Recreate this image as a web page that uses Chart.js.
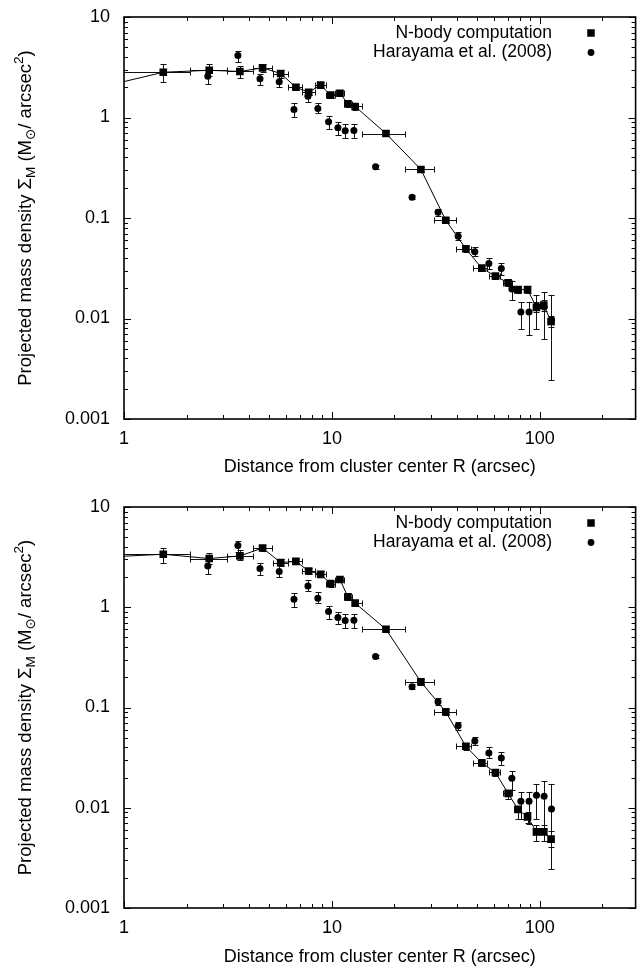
<!DOCTYPE html>
<html>
<head>
<meta charset="utf-8">
<script src="https://cdn.jsdelivr.net/npm/chart.js@4.4.1/dist/chart.umd.min.js"></script>
<style>
html,body{margin:0;padding:0;background:#fff;}
#wrap{position:relative;width:638px;height:969px;overflow:hidden;}
#c1{position:absolute;left:0;top:0;}
#c2{position:absolute;left:0;top:484px;}
</style>
</head>
<body>
<div id="wrap">
<canvas id="c1" width="641" height="484"></canvas>
<canvas id="c2" width="641" height="485"></canvas>
</div>
<script>
// ---- tick labels ----
const xTickValues = [1, 10, 100];
const xTickLabels = ['1', '10', '100'];
const yTickValues = [0.001, 0.01, 0.1, 1, 10];
const yTickLabels = ['0.001', '0.01', '0.1', '1', '10'];

// ---- N-body computation (radial bins) ----
const nbodyR   = [0.5, 1.545, 2.57, 3.61, 4.64, 5.67, 6.71, 7.73, 8.83, 9.86, 10.93, 11.94, 12.94, 18.2, 26.8, 35.3, 44.1, 52.6, 61.2, 70.4, 78.6, 87.3, 96.4, 104.5, 113.3];
const nbodyRLo = [null, 0.8, 2.07, 3.12, 4.17, 5.2, 6.14, 7.2, 8.3, 9.35, 10.4, 11.4, 12.45, 13.9, 22.4, 31.0, 39.7, 47.5, 57.0, 66.5, 75.0, 84.0, 92.5, 101, 109.5];
const nbodyRHi = [null, 2.07, 3.12, 4.17, 5.13, 6.14, 7.2, 8.3, 9.35, 10.4, 11.4, 12.45, 13.9, 22.4, 31.0, 39.7, 46.8, 55.5, 64.5, 73.5, 81.5, 90, 99.5, 107, 116];

// upper panel
const nbodyTop   = [1.62, 2.82, 2.95, 2.87, 3.12, 2.74, 2.00, 1.785, 2.10, 1.67, 1.745, 1.369, 1.287, 0.693, 0.304, 0.095, 0.0494, 0.0317, 0.0264, 0.0227, 0.0194, 0.0194, 0.0129, 0.0136, 0.00933];
const nbodyTopLo = [null, 2.23, 2.6, 2.48, 2.85, 2.5, 1.87, 1.66, 1.96, 1.56, 1.63, 1.28, 1.2, 0.66, 0.29, 0.09, 0.046, 0.0295, 0.0245, 0.021, 0.018, 0.018, 0.0115, 0.012, 0.0082];
const nbodyTopHi = [null, 3.37, 3.37, 3.24, 3.4, 3.0, 2.14, 1.92, 2.25, 1.79, 1.87, 1.46, 1.38, 0.73, 0.32, 0.1, 0.053, 0.034, 0.0285, 0.0245, 0.021, 0.021, 0.0145, 0.0153, 0.0107];

// lower panel
const nbodyBottom   = [3.0, 3.38, 3.06, 3.25, 3.90, 2.79, 2.87, 2.30, 2.13, 1.72, 1.89, 1.27, 1.10, 0.603, 0.180, 0.0904, 0.0411, 0.0280, 0.0225, 0.0139, 0.00962, 0.00811, 0.00575, 0.00575, 0.00486];
const nbodyBottomLo = [null, 2.79, 2.73, 2.94, 3.6, 2.6, 2.68, 2.15, 1.99, 1.61, 1.77, 1.19, 1.03, 0.57, 0.168, 0.084, 0.038, 0.026, 0.0208, 0.0121, 0.0078, 0.0070, 0.0047, 0.0047, 0.0041];
const nbodyBottomHi = [null, 3.93, 3.51, 3.70, 4.2, 3.0, 3.07, 2.46, 2.28, 1.84, 2.02, 1.36, 1.18, 0.64, 0.193, 0.097, 0.044, 0.030, 0.0243, 0.0149, 0.0102, 0.0091, 0.0067, 0.0067, 0.0058];

// ---- Harayama et al. (2008) ----
const harR     = [2.53, 3.53, 4.51, 5.58, 6.57, 7.67, 8.56, 9.64, 10.69, 11.59, 12.76, 16.22, 24.3, 32.4, 40.5, 48.7, 56.9, 65.3, 73.4, 81.1, 88.8, 96.4, 104.9, 113.8];
const harSigma = [2.58, 4.14, 2.43, 2.27, 1.20, 1.63, 1.23, 0.906, 0.79, 0.737, 0.742, 0.323, 0.161, 0.114, 0.0658, 0.0462, 0.0352, 0.0314, 0.0197, 0.0116, 0.0116, 0.0133, 0.013, 0.0097];
const harLo    = [2.13, 3.55, 2.1, 1.99, 1.007, 1.44, 1.096, 0.772, 0.673, 0.622, 0.622, 0.31, 0.153, 0.105, 0.06, 0.042, 0.031, 0.027, 0.0152, 0.0078, 0.0069, 0.0078, 0.0062, 0.00247];
const harHi    = [3.0, 4.56, 2.74, 2.74, 1.38, 1.86, 1.41, 1.03, 0.898, 0.852, 0.852, 0.335, 0.17, 0.123, 0.072, 0.051, 0.040, 0.036, 0.0235, 0.0145, 0.0145, 0.0173, 0.0183, 0.0173];

const seriesNames = ['N-body computation', 'Harayama et al. (2008)'];
const xTitle = 'Distance from cluster center R (arcsec)';
const yTitleParts = [
  ['Projected mass density \u03A3', 'n'], ['M', 'sub'], [' (M', 'n'], ['\u2299', 'sub'],
  ['/ arcsec', 'n'], ['2', 'sup'], [')', 'n']
];

const FONT = '"Liberation Sans", Arial, Helvetica, "DejaVu Sans", sans-serif';
const specs = {};

const decor = {
  id: 'decor',
  beforeDatasetsDraw(chart) {
    const s = specs[chart.canvas.id];
    const ctx = chart.ctx, a = chart.chartArea;
    const xs = chart.scales.x, ys = chart.scales.y;
    ctx.save();
    ctx.beginPath();
    ctx.rect(a.left, a.top, a.right - a.left, a.bottom - a.top);
    ctx.clip();
    ctx.strokeStyle = '#111';
    ctx.lineWidth = 1;
    const cap = 3;
    s.groups.forEach(g => {
      for (let i = 0; i < g.x.length; i++) {
        const px = Math.round(xs.getPixelForValue(g.x[i])) + 0.5;
        const py = Math.round(ys.getPixelForValue(g.y[i])) + 0.5;
        if (g.ylo && g.ylo[i] != null) {
          const p1 = Math.round(ys.getPixelForValue(g.ylo[i])) + 0.5;
          const p2 = Math.round(ys.getPixelForValue(g.yhi[i])) + 0.5;
          ctx.beginPath();
          ctx.moveTo(px, p1); ctx.lineTo(px, p2);
          ctx.moveTo(px - cap, p1); ctx.lineTo(px + cap, p1);
          ctx.moveTo(px - cap, p2); ctx.lineTo(px + cap, p2);
          ctx.stroke();
        }
        if (g.xlo && g.xlo[i] != null) {
          const q1 = Math.round(xs.getPixelForValue(g.xlo[i])) + 0.5;
          const q2 = Math.round(xs.getPixelForValue(g.xhi[i])) + 0.5;
          ctx.beginPath();
          ctx.moveTo(q1, py); ctx.lineTo(q2, py);
          ctx.moveTo(q1, py - cap); ctx.lineTo(q1, py + cap);
          ctx.moveTo(q2, py - cap); ctx.lineTo(q2, py + cap);
          ctx.stroke();
        }
      }
    });
    ctx.restore();
  },
  afterDraw(chart) {
    const ctx = chart.ctx, a = chart.chartArea;
    const xs = chart.scales.x, ys = chart.scales.y;
    ctx.save();
    ctx.strokeStyle = '#000';
    // ticks
    ctx.lineWidth = 1;
    const major = 7, minor = 4;
    ctx.beginPath();
    [1, 10, 100].forEach(d => {
      for (let k = 1; k <= 9; k++) {
        const v = k * d;
        if (v < xs.min || v > xs.max) continue;
        const px = Math.round(xs.getPixelForValue(v)) + 0.5;
        const L = k === 1 ? major : minor;
        ctx.moveTo(px, a.bottom); ctx.lineTo(px, a.bottom - L);
        ctx.moveTo(px, a.top); ctx.lineTo(px, a.top + L);
      }
    });
    [0.001, 0.01, 0.1, 1, 10].forEach(d => {
      for (let k = 1; k <= 9; k++) {
        const v = k * d;
        if (v < ys.min * 0.999 || v > ys.max * 1.001) continue;
        const py = Math.round(ys.getPixelForValue(v)) + 0.5;
        const L = k === 1 ? major : minor;
        ctx.moveTo(a.left, py); ctx.lineTo(a.left + L, py);
        ctx.moveTo(a.right, py); ctx.lineTo(a.right - L, py);
      }
    });
    ctx.stroke();
    // frame
    ctx.lineWidth = 1.6;
    ctx.strokeRect(a.left, a.top, a.right - a.left, a.bottom - a.top);

    // legend
    ctx.fillStyle = '#000';
    ctx.font = '17.5px ' + FONT;
    ctx.textAlign = 'right';
    ctx.textBaseline = 'middle';
    const ly1 = a.top + 16, ly2 = a.top + 35.5;
    ctx.fillText(seriesNames[0], 552, ly1);
    ctx.fillText(seriesNames[1], 552, ly2);
    ctx.fillRect(591 - 3.75, ly1 - 3.75, 7.5, 7.5);
    ctx.beginPath(); ctx.arc(591, ly2, 3.4, 0, Math.PI * 2); ctx.fill();

    // y title with sub/superscripts
    const fs = 18.5, small = 13.5;
    const segs = yTitleParts.map(([t, k]) => {
      ctx.font = (k === 'n' ? fs : small) + 'px ' + FONT;
      return { t, k, w: ctx.measureText(t).width };
    });
    const total = segs.reduce((s, g) => s + g.w, 0);
    const cy = (a.top + a.bottom) / 2;
    ctx.translate(30.5, cy);
    ctx.rotate(-Math.PI / 2);
    ctx.textAlign = 'left';
    ctx.textBaseline = 'alphabetic';
    let xpos = -total / 2;
    segs.forEach(g => {
      ctx.font = (g.k === 'n' ? fs : small) + 'px ' + FONT;
      const dy = g.k === 'sub' ? 4.5 : (g.k === 'sup' ? -7.5 : 0);
      ctx.fillText(g.t, xpos, dy);
      xpos += g.w;
    });
    ctx.restore();
  }
};

function makeChart(id, vals, lo, hi, padTop, xHeight, titlePadBottom) {
  specs[id] = {
    groups: [
      { x: nbodyR, y: vals, ylo: lo, yhi: hi, xlo: nbodyRLo, xhi: nbodyRHi },
      { x: harR, y: harSigma, ylo: harLo, yhi: harHi }
    ]
  };
  const font = { family: FONT, size: 18 };
  new Chart(document.getElementById(id), {
    type: 'scatter',
    data: {
      datasets: [
        {
          label: seriesNames[0],
          data: nbodyR.map((r, i) => ({ x: r, y: vals[i] })),
          showLine: true, borderColor: '#000', borderWidth: 1, tension: 0,
          pointStyle: 'rect', pointRadius: 5.4, pointBackgroundColor: '#000',
          pointBorderWidth: 0, pointHoverRadius: 5.4
        },
        {
          label: seriesNames[1],
          data: harR.map((r, i) => ({ x: r, y: harSigma[i] })),
          showLine: false,
          pointStyle: 'circle', pointRadius: 3.5, pointBackgroundColor: '#000',
          pointBorderWidth: 0, pointHoverRadius: 3.5
        }
      ]
    },
    options: {
      responsive: false,
      animation: false,
      events: [],
      layout: { padding: { top: padTop, right: 2, left: 0, bottom: 0 } },
      plugins: { legend: { display: false }, tooltip: { enabled: false } },
      scales: {
        x: {
          type: 'logarithmic', min: 1, max: 289,
          afterBuildTicks(sc) { sc.ticks = xTickValues.map(v => ({ value: v })); },
          afterFit(sc) { sc.height = xHeight; sc.paddingLeft = 0; sc.paddingRight = 0; },
          grid: { display: false, drawTicks: false },
          border: { display: false },
          ticks: { callback: (v, i) => xTickLabels[i], font, color: '#000', padding: 9, maxRotation: 0, autoSkip: false },
          title: { display: true, text: xTitle, font, color: '#000', padding: { top: 0, bottom: titlePadBottom } }
        },
        y: {
          type: 'logarithmic', min: 0.001, max: 10,
          afterBuildTicks(sc) { sc.ticks = yTickValues.map(v => ({ value: v })); },
          afterFit(sc) { sc.width = 124; sc.paddingTop = 0; sc.paddingBottom = 0; },
          grid: { display: false, drawTicks: false },
          border: { display: false },
          ticks: { callback: (v, i) => yTickLabels[i], font, color: '#000', padding: 14, autoSkip: false }
        }
      }
    },
    plugins: [decor]
  });
}

makeChart('c1', nbodyTop, nbodyTopLo, nbodyTopHi, 17, 65, 6.2);
makeChart('c2', nbodyBottom, nbodyBottomLo, nbodyBottomHi, 23, 61, 1.2);
</script>
</body>
</html>
